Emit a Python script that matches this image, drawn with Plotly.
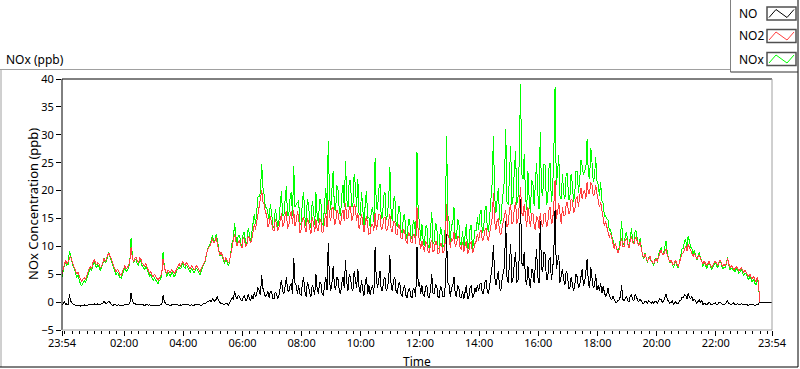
import pandas as pd
import plotly.graph_objects as go

# ---------------- data (2.5-minute samples starting 23:54) ----------------
START = "2024-01-01 23:54:00"
END = "2024-01-02 23:54:00"
STEP = "150s"

NO2 = [
    5.0, 6.2, 6.8, 7.5, 6.9, 7.3, 7.8, 8.2, 7.4, 6.8, 6.5, 5.6, 5.0, 5.3, 4.6, 3.9, 3.6, 4.1, 4.4, 4.0, 4.8, 5.5, 6.0, 6.4,
    6.0, 7.0, 7.6, 7.2, 6.6, 7.1, 6.8, 6.2, 6.3, 7.0, 7.8, 7.3, 7.6, 8.4, 8.8, 8.2, 7.8, 7.0, 6.5, 5.9, 5.4, 5.9, 5.4, 5.0,
    4.8, 5.5, 6.1, 6.6, 5.9, 6.2, 6.5, 7.4, 9.8, 8.2, 7.2, 7.8, 8.1, 7.4, 7.0, 7.9, 7.7, 7.0, 6.7, 6.4, 7.0, 6.2, 5.7, 5.2,
    5.5, 4.9, 4.5, 5.0, 4.7, 4.2, 3.9, 4.4, 4.6, 5.3, 7.8, 6.2, 5.5, 5.0, 5.8, 5.4, 5.2, 5.9, 5.6, 5.1, 5.4, 6.0, 6.4, 6.9,
    6.4, 6.9, 7.3, 6.8, 6.6, 7.1, 6.7, 6.2, 5.9, 6.5, 6.3, 5.8, 6.0, 6.6, 6.2, 5.7, 5.4, 6.1, 6.6, 7.0, 7.4, 8.5, 9.3, 9.8,
    10.0, 11.0, 11.4, 10.6, 10.9, 11.6, 10.4, 9.3, 8.4, 9.0, 8.3, 7.6, 7.3, 8.0, 7.5, 7.0, 7.5, 8.6, 9.9, 10.8, 12.2, 11.0, 10.0, 10.8,
    11.0, 10.2, 9.7, 11.6, 11.2, 10.0, 10.2, 11.8, 11.5, 10.6, 11.3, 12.6, 14.0, 13.0, 14.6, 16.2, 17.0, 18.5, 20.0, 18.0, 17.5, 16.0, 15.8, 13.5,
    14.0, 15.5, 14.3, 13.0, 12.7, 14.8, 14.0, 12.8, 13.4, 15.0, 15.9, 13.5, 14.0, 15.5, 16.3, 13.2, 13.8, 15.5, 16.4, 14.0, 16.5, 13.6, 14.5, 16.3,
    15.2, 12.4, 13.0, 14.8, 15.3, 13.4, 12.6, 15.0, 14.6, 13.0, 12.3, 15.2, 14.3, 12.6, 14.8, 13.0, 12.7, 15.0, 14.6, 12.4, 12.6, 14.5, 15.9, 13.5,
    18.3, 15.5, 14.5, 16.8, 17.0, 13.8, 14.2, 16.5, 16.0, 14.2, 13.9, 15.8, 16.5, 14.5, 17.8, 15.0, 15.0, 16.8, 17.3, 14.5, 15.2, 17.5, 17.0, 14.5,
    16.0, 13.2, 14.0, 15.8, 14.0, 12.6, 14.1, 15.5, 13.6, 12.2, 12.3, 14.0, 14.0, 12.8, 16.0, 13.0, 14.0, 15.8, 15.6, 13.0, 13.2, 15.0, 15.3, 12.8,
    13.0, 14.2, 15.8, 13.0, 12.5, 14.5, 14.5, 12.2, 12.0, 14.0, 13.5, 11.5, 11.3, 13.0, 12.7, 11.0, 10.5, 12.5, 12.3, 10.8, 10.6, 12.2, 12.0, 10.5,
    17.0, 12.5, 11.0, 9.5, 11.0, 9.8, 9.0, 10.8, 10.7, 9.0, 8.8, 10.5, 11.2, 9.0, 9.3, 11.0, 10.7, 8.6, 8.8, 10.6, 10.4, 8.8, 9.2, 11.0,
    17.5, 12.0, 11.5, 9.8, 11.5, 11.0, 12.5, 10.0, 10.3, 11.8, 11.7, 9.6, 9.5, 10.8, 9.0, 10.2, 11.0, 8.6, 9.1, 10.5, 10.9, 8.8, 9.4, 10.5,
    10.9, 12.2, 11.0, 12.5, 13.0, 11.0, 11.3, 12.8, 13.3, 11.5, 11.0, 12.5, 13.5, 15.0, 19.5, 14.5, 13.0, 14.6, 15.0, 12.5, 12.0, 13.8, 14.5, 15.5,
    16.5, 13.5, 14.0, 16.5, 17.5, 14.0, 14.4, 16.8, 18.0, 14.0, 15.0, 17.5, 20.6, 16.0, 15.5, 17.5, 15.0, 13.5, 17.0, 14.5, 13.4, 15.8, 16.0, 13.8,
    13.0, 15.5, 15.0, 13.2, 16.0, 14.0, 13.5, 15.8, 16.0, 13.5, 14.0, 16.5, 17.0, 14.0, 14.5, 17.5, 21.9, 15.0, 16.0, 17.8, 15.5, 14.0, 17.0, 15.5,
    15.5, 17.5, 18.0, 15.8, 16.0, 18.5, 18.3, 16.0, 16.5, 18.5, 19.0, 17.0, 19.0, 20.5, 18.5, 19.8, 20.0, 18.5, 21.5, 19.5, 19.5, 21.5, 21.0, 19.0,
    19.5, 21.0, 19.5, 18.0, 17.0, 18.0, 16.5, 15.0, 13.6, 14.5, 13.4, 12.2, 11.6, 12.4, 11.4, 10.2, 9.6, 10.5, 9.8, 8.8, 9.4, 10.5, 11.5, 10.0,
    10.0, 11.2, 11.5, 10.4, 9.8, 11.0, 11.9, 10.6, 10.4, 11.5, 11.6, 10.5, 10.1, 10.8, 9.2, 8.5, 8.0, 8.6, 7.9, 7.4, 7.7, 8.2, 7.5, 7.0,
    6.8, 7.4, 7.8, 7.3, 8.2, 8.8, 9.3, 8.6, 8.5, 9.2, 9.5, 8.4, 7.8, 7.2, 7.5, 6.9, 6.6, 7.2, 7.4, 6.8, 6.4, 7.2, 8.0, 8.6,
    8.8, 9.6, 10.0, 9.2, 10.3, 9.8, 9.3, 8.6, 8.2, 8.8, 8.3, 7.7, 8.1, 8.5, 7.8, 7.2, 6.8, 7.4, 7.0, 6.5, 6.9, 7.3, 6.7, 6.3,
    6.6, 7.1, 7.4, 6.9, 6.6, 7.2, 7.6, 6.9, 6.3, 6.8, 6.5, 7.0, 7.8, 6.8, 6.2, 6.6, 6.2, 5.8, 6.0, 6.4, 6.1, 5.7, 5.8, 6.2,
    5.8, 5.3, 5.7, 5.4, 5.0, 4.6, 5.0, 4.4, 4.1, 4.6, 4.0, 3.6, 4.4, 3.8,
    0.0, 0.0, 0.0, 0.0, 0.0, 0.0, 0.0, 0.0, 0.0, 0.0, 0.0,
]

NO = [
    -0.5, -0.3, 0.0, -0.4, -0.3, -0.5, 1.4, 0.2, -0.2, -0.4, -0.5, -0.6, -0.6, -0.5, -0.6, -0.7, -0.6, -0.5, -0.5, -0.6, -0.6, -0.5, -0.5, -0.4,
    -0.4, -0.5, -0.3, -0.4, -0.5, -0.3, -0.4, -0.5, -0.2, -0.3, 0.1, -0.2, -0.3, 0.0, 0.2, -0.1, -0.4, -0.6, -0.5, -0.4, -0.6, -0.5, -0.5, -0.6,
    -0.5, -0.6, -0.5, -0.4, -0.4, -0.5, -0.5, -0.2, 1.6, 0.3, -0.2, -0.3, -0.4, -0.5, -0.5, -0.4, -0.4, -0.5, -0.5, -0.6, -0.5, -0.4, -0.6, -0.5,
    -0.6, -0.5, -0.6, -0.7, -0.7, -0.6, -0.6, -0.5, -0.5, -0.3, 1.2, 0.2, -0.3, -0.4, -0.5, -0.6, -0.6, -0.5, -0.5, -0.6, -0.5, -0.4, -0.5, -0.6,
    -0.5, -0.6, -0.4, -0.5, -0.5, -0.4, -0.5, -0.6, -0.6, -0.5, -0.5, -0.6, -0.4, -0.5, -0.5, -0.4, -0.5, -0.6, -0.4, -0.2, -0.3, -0.1, 0.0, 0.2,
    0.3, 0.0, 0.6, 0.4, 0.1, 0.5, 1.0, 0.3, -0.1, -0.3, -0.2, -0.4, -0.4, -0.2, -0.3, -0.5, -0.2, 0.2, 0.8, 0.4, 2.0, 1.0, 0.5, 1.2,
    1.0, 0.4, 0.2, 0.9, 1.2, 0.3, 0.4, 1.4, 0.8, 0.2, 1.2, 0.6, 1.8, 1.0, 1.5, 2.6, 2.0, 1.2, 4.8, 2.5, 1.8, 0.9, 1.2, 2.0,
    0.8, 2.0, 1.8, 0.7, 0.6, 1.8, 1.6, 0.5, 1.2, 2.4, 4.0, 2.0, 1.5, 2.8, 4.5, 2.2, 1.8, 3.0, 3.4, 1.5, 7.9, 3.5, 3.0, 1.5,
    3.0, 1.5, 1.2, 3.2, 4.5, 2.0, 1.0, 3.5, 3.0, 1.5, 1.0, 3.0, 2.5, 1.2, 5.0, 2.5, 1.5, 3.5, 3.5, 1.5, 1.2, 3.0, 4.5, 2.2,
    10.6, 4.0, 2.0, 3.5, 6.5, 3.0, 2.2, 4.5, 4.0, 2.0, 1.5, 3.5, 4.5, 2.5, 7.5, 3.5, 2.0, 5.0, 4.5, 2.5, 2.0, 5.5, 4.0, 2.5,
    6.0, 2.5, 1.6, 4.0, 2.2, 1.2, 3.5, 4.5, 1.5, 3.0, 1.2, 2.5, 3.0, 1.5, 9.8, 4.0, 2.5, 4.5, 5.5, 2.0, 2.0, 4.0, 4.5, 2.0,
    2.5, 4.0, 8.4, 3.0, 2.0, 4.0, 4.5, 2.0, 1.5, 3.2, 3.5, 1.5, 1.0, 2.5, 3.0, 1.2, 0.8, 2.2, 2.5, 1.0, 0.8, 2.5, 2.2, 1.0,
    9.9, 3.0, 3.5, 1.5, 3.0, 1.2, 1.0, 2.8, 3.0, 1.0, 0.8, 2.2, 5.0, 1.5, 1.5, 3.2, 3.0, 1.0, 0.8, 2.8, 2.5, 1.0, 1.0, 3.0,
    12.2, 3.5, 3.0, 1.0, 2.5, 3.0, 4.5, 1.5, 1.0, 3.0, 2.5, 0.8, 0.8, 2.0, 0.5, 1.8, 3.0, 0.6, 0.8, 2.5, 3.0, 0.7, 1.2, 2.5,
    1.8, 3.0, 2.0, 3.2, 3.5, 1.5, 1.6, 3.5, 4.0, 2.0, 1.5, 3.0, 4.5, 6.5, 10.2, 4.5, 3.0, 4.5, 5.5, 2.5, 2.0, 4.0, 5.0, 6.5,
    14.5, 4.5, 3.5, 6.5, 10.5, 3.5, 4.5, 7.0, 9.0, 3.5, 4.0, 8.5, 18.5, 7.0, 6.5, 9.0, 4.0, 3.0, 6.5, 4.0, 2.5, 6.0, 5.5, 3.5,
    7.5, 9.5, 4.5, 3.5, 14.5, 6.0, 5.5, 9.0, 8.5, 4.0, 4.0, 7.5, 8.0, 4.0, 5.5, 9.0, 16.6, 6.0, 7.0, 8.5, 3.5, 4.5, 6.0, 4.0,
    3.0, 5.5, 5.0, 2.5, 2.5, 4.5, 3.0, 2.0, 3.0, 5.0, 4.5, 2.5, 3.0, 5.0, 6.0, 3.0, 3.5, 5.5, 7.7, 3.5, 2.5, 6.2, 4.0, 2.5,
    3.0, 5.0, 2.2, 3.0, 2.0, 3.5, 1.6, 2.8, 1.8, 1.0, 1.5, 2.5, 1.2, 0.6, 0.4, 1.0, 0.4, 0.0, -0.1, 0.3, 0.4, 1.0, 3.0, 0.5,
    0.3, 0.8, 1.0, 0.2, 0.1, 1.2, 1.3, 0.4, 0.3, 1.4, 1.0, 0.3, 0.1, 0.6, 0.2, -0.2, -0.3, 0.2, 0.1, -0.3, 0.3, 0.0, -0.2, 0.1,
    -0.3, 0.2, 0.1, -0.2, 0.3, 0.6, 0.5, 0.0, 0.1, 0.7, 1.5, 0.5, 0.2, -0.2, -0.1, 0.3, -0.4, -0.1, 0.1, -0.3, -0.3, 0.2, 0.3, 0.9,
    0.8, 1.3, 1.2, 0.5, 1.6, 0.9, 0.6, 1.0, 0.2, 0.6, 0.1, -0.2, 0.1, 0.4, -0.1, 0.3, -0.4, -0.2, -0.3, -0.5, -0.3, 0.0, -0.3, -0.5,
    -0.4, -0.2, -0.1, -0.5, -0.4, -0.1, 0.0, -0.3, -0.4, -0.5, -0.3, -0.1, 0.2, -0.2, -0.4, -0.5, -0.3, -0.1, -0.5, -0.4, -0.3, -0.5, -0.5, -0.3,
    -0.4, -0.5, -0.5, -0.4, -0.5, -0.6, -0.4, -0.5, -0.5, -0.4, -0.6, -0.5, -0.5, -0.4,
    0.0, 0.0, 0.0, 0.0, 0.0, 0.0, 0.0, 0.0, 0.0, 0.0, 0.0,
]

NOX = [
    4.5, 5.9, 6.8, 7.1, 6.6, 6.8, 9.2, 8.4, 7.2, 6.4, 6.0, 5.0, 4.4, 4.8, 4.0, 3.2, 3.0, 3.6, 3.9, 3.4, 4.2, 5.0, 5.5, 6.0,
    5.6, 6.5, 7.3, 6.8, 6.1, 6.8, 6.4, 5.7, 6.1, 6.7, 7.9, 7.1, 7.3, 8.4, 9.0, 8.1, 7.4, 6.4, 6.0, 5.5, 4.8, 5.4, 4.9, 4.4,
    4.3, 4.9, 5.6, 6.2, 5.5, 5.7, 6.0, 7.2, 11.4, 8.5, 7.0, 7.5, 7.7, 6.9, 6.5, 7.5, 7.3, 6.5, 6.2, 5.8, 6.5, 5.8, 5.1, 4.7,
    4.9, 4.4, 3.9, 4.3, 4.0, 3.6, 3.3, 3.9, 4.1, 5.0, 9.0, 6.4, 5.2, 4.6, 5.3, 4.8, 4.6, 5.4, 5.1, 4.5, 4.9, 5.6, 5.9, 6.3,
    5.9, 6.3, 6.9, 6.3, 6.1, 6.7, 6.2, 5.6, 5.3, 6.0, 5.8, 5.2, 5.6, 6.1, 5.7, 5.3, 4.9, 5.5, 6.2, 6.8, 7.1, 8.4, 9.3, 10.0,
    10.3, 11.0, 12.0, 11.0, 11.0, 12.1, 11.4, 9.6, 8.3, 8.7, 8.1, 7.2, 6.9, 7.8, 7.2, 6.5, 7.3, 8.8, 10.7, 11.2, 14.2, 12.0, 10.5, 12.0,
    12.0, 10.6, 9.9, 12.5, 12.4, 10.3, 10.6, 13.2, 12.3, 10.8, 12.5, 13.2, 15.8, 14.0, 16.1, 18.8, 19.0, 19.7, 24.8, 20.5, 19.3, 16.9, 17.0, 15.5,
    14.8, 17.5, 16.1, 13.7, 13.3, 16.6, 15.6, 13.3, 14.6, 17.4, 19.9, 15.5, 15.5, 18.3, 20.8, 15.4, 15.6, 18.5, 19.8, 15.5, 24.4, 17.1, 17.5, 17.8,
    18.2, 13.9, 14.2, 18.0, 19.8, 15.4, 13.6, 18.5, 17.6, 14.5, 13.3, 18.2, 16.8, 13.8, 19.8, 15.5, 14.2, 18.5, 18.1, 13.9, 13.8, 17.5, 20.4, 15.7,
    28.9, 19.5, 16.5, 20.3, 23.5, 16.8, 16.4, 21.0, 20.0, 16.2, 15.4, 19.3, 21.0, 17.0, 25.3, 18.5, 17.0, 21.8, 21.8, 17.0, 17.2, 23.0, 21.0, 17.0,
    22.0, 15.7, 15.6, 19.8, 16.2, 13.8, 17.6, 20.0, 15.1, 15.2, 13.5, 16.5, 17.0, 14.3, 25.8, 17.0, 16.5, 20.3, 21.1, 15.0, 15.2, 19.0, 19.8, 14.8,
    15.5, 18.2, 24.2, 16.0, 14.5, 18.5, 19.0, 14.2, 13.5, 17.2, 17.0, 13.0, 12.3, 15.5, 15.7, 12.2, 11.3, 14.7, 14.8, 11.8, 11.4, 14.7, 14.2, 11.5,
    26.9, 15.5, 14.5, 11.0, 14.0, 11.0, 10.0, 13.6, 13.7, 10.0, 9.6, 12.7, 16.2, 10.5, 10.8, 14.2, 13.7, 9.6, 9.6, 13.4, 12.9, 9.8, 10.2, 14.0,
    29.7, 15.5, 14.5, 10.8, 14.0, 14.0, 17.0, 11.5, 11.3, 14.8, 14.2, 10.4, 10.3, 12.8, 9.5, 12.0, 14.0, 9.2, 9.9, 13.0, 13.9, 9.5, 10.6, 13.0,
    12.7, 15.2, 13.0, 15.7, 16.5, 12.5, 12.9, 16.3, 17.3, 13.5, 12.5, 15.5, 18.0, 21.5, 29.7, 19.0, 16.0, 19.1, 20.5, 15.0, 14.0, 17.8, 19.5, 22.0,
    31.0, 18.0, 17.5, 23.0, 28.0, 17.5, 18.9, 23.8, 27.0, 17.5, 19.0, 26.0, 39.1, 23.0, 22.0, 26.5, 19.0, 16.5, 23.5, 18.5, 15.9, 21.8, 21.5, 17.3,
    20.5, 25.0, 19.5, 16.7, 30.5, 20.0, 19.0, 24.8, 24.5, 17.5, 18.0, 24.0, 25.0, 18.0, 20.0, 26.5, 38.5, 21.0, 23.0, 26.3, 19.0, 18.5, 23.0, 19.5,
    18.5, 23.0, 23.0, 18.3, 18.5, 23.0, 21.3, 18.0, 19.5, 23.5, 23.5, 19.5, 22.0, 25.5, 24.5, 22.8, 23.5, 24.0, 29.2, 23.0, 22.0, 27.7, 25.0, 21.5,
    22.5, 26.0, 21.7, 21.0, 19.0, 21.5, 18.1, 17.8, 15.4, 15.5, 14.9, 14.7, 12.8, 13.0, 11.8, 11.2, 10.0, 10.5, 9.7, 9.1, 9.8, 11.5, 14.5, 10.5,
    10.3, 12.0, 12.5, 10.6, 9.9, 12.2, 13.2, 11.0, 10.7, 12.9, 12.6, 10.8, 10.2, 11.4, 9.4, 8.3, 7.7, 8.8, 8.0, 7.1, 8.0, 8.2, 7.3, 7.1,
    6.5, 7.6, 7.9, 7.1, 8.5, 9.4, 9.8, 8.6, 8.6, 9.9, 11.0, 8.9, 8.0, 7.0, 7.4, 7.2, 6.2, 7.1, 7.5, 6.5, 6.1, 7.4, 8.3, 9.5,
    9.6, 10.9, 11.2, 9.7, 11.9, 10.7, 9.9, 9.6, 8.4, 9.4, 8.4, 7.5, 8.2, 8.9, 7.7, 7.5, 6.4, 7.2, 6.7, 6.0, 6.6, 7.3, 6.4, 5.8,
    6.2, 6.9, 7.3, 6.4, 6.2, 7.1, 7.6, 6.6, 5.9, 6.3, 6.2, 6.9, 8.0, 6.6, 5.8, 6.1, 5.9, 5.7, 5.5, 6.0, 5.8, 5.2, 5.3, 5.9,
    5.4, 4.8, 5.2, 5.0, 4.5, 4.0, 4.6, 3.9, 3.6, 4.2, 3.4, 3.1, 3.9, 3.4,
    0.0, 0.0, 0.0, 0.0, 0.0, 0.0, 0.0, 0.0, 0.0, 0.0, 0.0,
]

TICK_TIMES = [
    "2024-01-01 23:54", "2024-01-02 02:00", "2024-01-02 04:00", "2024-01-02 06:00",
    "2024-01-02 08:00", "2024-01-02 10:00", "2024-01-02 12:00", "2024-01-02 14:00",
    "2024-01-02 16:00", "2024-01-02 18:00", "2024-01-02 20:00", "2024-01-02 22:00",
    "2024-01-02 23:54",
]
TICK_LABELS = ["23:54", "02:00", "04:00", "06:00", "08:00", "10:00", "12:00",
               "14:00", "16:00", "18:00", "20:00", "22:00", "23:54"]
Y_TICKS = [-5, 0, 5, 10, 15, 20, 25, 30, 35, 40]

SERIES_NAMES = ["NO", "NO2", "NOx"]
SERIES_COLORS = {"NO": "#000000", "NO2": "#ff4040", "NOx": "#00ff00"}

assert len(NO2) == len(NO) == len(NOX), (len(NO2), len(NO), len(NOX))
times = pd.date_range(START, periods=len(NO2), freq=STEP)

# ---------------- layout geometry (pixels) ----------------
W, H = 800, 369
L, R, T, B = 62, 28, 79, 39
PW, PH = W - L - R, H - T - B


def X(px):
    return (px - L) / PW


def Y(py):
    return (H - B - py) / PH


FONT = "Noto Sans"

fig = go.Figure()
for name, vals in [("NOx", NOX), ("NO2", NO2), ("NO", NO)]:
    fig.add_trace(go.Scatter(x=times, y=vals, mode="lines", name=name,
                             line=dict(color=SERIES_COLORS[name], width=1),
                             showlegend=False, hoverinfo="skip"))

shapes = []


def seg(x0, y0, x1, y1, color, width=1):
    shapes.append(dict(type="line", xref="paper", yref="paper",
                       x0=X(x0), y0=Y(y0), x1=X(x1), y1=Y(y1),
                       line=dict(color=color, width=width), layer="above"))


# plot-area frame
seg(62, 79, 772, 79, "#000000")
seg(62, 79, 62, 330, "#000000")
seg(772, 79, 772, 330, "#a0a0a0")
seg(62, 330, 772, 330, "#a0a0a0")
# outer frame
seg(0, 69.5, 730, 69.5, "#a0a0a0")
seg(1, 69.5, 1, 367, "#a0a0a0")
seg(0, 367, 798, 367, "#000000")
seg(798, 0, 798, 367, "#000000")
# legend box
seg(730.5, 0, 730.5, 72, "#808080")
seg(730.5, 72, 798, 72, "#303030")

annotations = []
legend_rows = [13.5, 36, 59]
for name, cy in zip(SERIES_NAMES, legend_rows):
    annotations.append(dict(text=name, x=X(737), y=Y(cy), xref="paper", yref="paper",
                            xanchor="left", yanchor="middle", showarrow=False,
                            font=dict(family=FONT, size=12, color="#000000")))
    top, bot = cy - 6.5, cy + 6.5
    shapes.append(dict(type="rect", xref="paper", yref="paper",
                       x0=X(767), x1=X(796), y0=Y(bot), y1=Y(top),
                       line=dict(color="#505050", width=1.5), fillcolor="white"))
    pts = [(769, bot - 2.5), (776, top + 2.5), (787, bot - 2.5), (794, top + 2.5)]
    path = "M " + " L ".join(f"{X(px)},{Y(py)}" for px, py in pts)
    shapes.append(dict(type="path", xref="paper", yref="paper", path=path,
                       line=dict(color=SERIES_COLORS[name], width=1)))

annotations.append(dict(text="NOx (ppb)", x=X(4), y=Y(59), xref="paper", yref="paper",
                        xanchor="left", yanchor="middle", showarrow=False,
                        font=dict(family=FONT, size=12, color="#000000")))
annotations.append(dict(text="Time", x=X(417), y=Y(361.5), xref="paper", yref="paper",
                        xanchor="center", yanchor="middle", showarrow=False,
                        font=dict(family=FONT, size=12, color="#000000")))
annotations.append(dict(text="NOx Concentration (ppb)", x=X(33), y=Y(204), xref="paper",
                        yref="paper", xanchor="center", yanchor="middle", textangle=-90,
                        showarrow=False, font=dict(family=FONT, size=13, color="#000000")))

fig.update_layout(
    width=W, height=H, margin=dict(l=L, r=R, t=T, b=B, pad=0),
    paper_bgcolor="white", plot_bgcolor="white",
    font=dict(family=FONT, size=11, color="#000000"),
    shapes=shapes, annotations=annotations, showlegend=False,
    xaxis=dict(type="date", range=[START, END], tickmode="array",
               tickvals=TICK_TIMES, ticktext=TICK_LABELS,
               ticks="outside", ticklen=5, tickwidth=1, tickcolor="#000000",
               ticklabelstandoff=-2,
               showgrid=False, zeroline=False, showline=False,
               tickfont=dict(family=FONT, size=11, color="#000000"),
               minor=dict(ticks="outside", ticklen=3, tickwidth=1, tickcolor="#000000",
                          dtick=15 * 60 * 1000, tick0="2024-01-02 00:00", showgrid=False)),
    yaxis=dict(range=[-5, 40], tickmode="array", tickvals=Y_TICKS,
               ticks="outside", ticklen=5, tickwidth=1, tickcolor="#000000",
               showgrid=False, zeroline=False, showline=False,
               tickfont=dict(family=FONT, size=11, color="#000000")),
)

crisp = (
    "function crisp(){document.querySelectorAll('.scatterlayer path').forEach("
    "function(p){p.style.shapeRendering='crispEdges';});}"
    "crisp();setTimeout(crisp,50);setTimeout(crisp,300);"
    "document.body.style.margin='0';document.body.style.overflow='hidden';"
)
fig.write_html("out.html", config={"displayModeBar": False, "staticPlot": True},
               post_script=crisp)
